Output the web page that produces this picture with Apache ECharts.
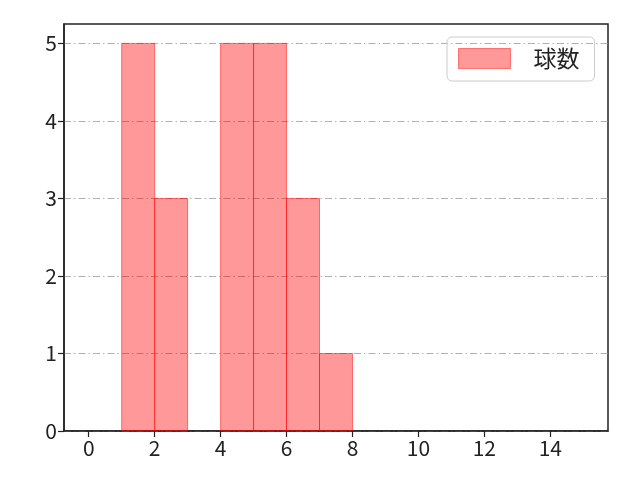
<!DOCTYPE html>
<html>
<head>
<meta charset="utf-8">
<script src="https://cdn.jsdelivr.net/npm/echarts@6/dist/echarts.min.js"></script>
<style>
  html, body { margin: 0; padding: 0; background: #fff; }
  #main { width: 640px; height: 480px; }
</style>
</head>
<body>
<div id="main"></div>
<script>
// histogram bins (left edge, width 1) and counts
var binStarts = [1, 2, 3, 4, 5, 6, 7];
var counts = [5, 3, 0, 5, 5, 3, 1];
var xTicks = [0, 2, 4, 6, 8, 10, 12, 14];
var yTicks = [0, 1, 2, 3, 4, 5];
var seriesName = '球数';

var chart = echarts.init(document.getElementById('main'));
var font = 'Noto Sans CJK JP';

var data = binStarts.map(function (s, i) {
    return [s, s + 1, counts[i]];
});

var option = {
    animation: false,
    textStyle: { fontFamily: font },
    grid: {
        left: 64, right: 32, top: 24, bottom: 49,
        show: true, borderColor: '#222', borderWidth: 1.5, backgroundColor: 'transparent'
    },
    legend: {
        left: 447,
        top: 37,
        padding: [10, 15, 11, 11],
        borderColor: '#ccc',
        borderWidth: 1,
        borderRadius: 5,
        itemWidth: 52,
        itemHeight: 20,
        textStyle: { fontSize: 23, color: '#222', fontFamily: font, padding: [0, 0, 0, 18] },
        data: [{
            name: seriesName,
            icon: 'rect',
            itemStyle: { color: 'rgba(255,0,0,0.4)', borderColor: 'rgba(255,0,0,0.45)', borderWidth: 1 }
        }]
    },
    xAxis: {
        type: 'value',
        min: -0.75,
        max: 15.75,
        axisLine: { show: true, onZero: false, lineStyle: { color: '#222', width: 1.5 } },
        axisTick: { show: true, length: 6, customValues: xTicks, lineStyle: { color: '#222', width: 1.2 } },
        axisLabel: { customValues: xTicks, fontSize: 21, color: '#222', margin: 7 },
        splitLine: { show: false }
    },
    yAxis: {
        type: 'value',
        min: 0,
        max: 5.25,
        interval: 1,
        axisLine: { show: true, onZero: false, lineStyle: { color: '#222', width: 1.5 } },
        axisTick: { show: true, length: 6, customValues: yTicks, lineStyle: { color: '#222', width: 1.2 } },
        axisLabel: { customValues: yTicks, fontSize: 21, color: '#222', margin: 7 },
        splitLine: { show: true, lineStyle: { color: '#b0b0b0', width: 1, type: [7, 3, 1.5, 3] } }
    },
    series: [{
        name: seriesName,
        type: 'custom',
        data: data,
        encode: { x: [0, 1], y: 2 },
        renderItem: function (params, api) {
            if (!api.value(2)) {
                return null;
            }
            var p0 = api.coord([api.value(0), 0]);
            var p1 = api.coord([api.value(1), api.value(2)]);
            return {
                type: 'rect',
                shape: { x: p0[0], y: p1[1], width: p1[0] - p0[0], height: p0[1] - p1[1] },
                style: { fill: 'rgba(255,0,0,0.4)', stroke: 'rgba(255,0,0,0.5)', lineWidth: 1 }
            };
        }
    }]
};

chart.setOption(option);
</script>
</body>
</html>
